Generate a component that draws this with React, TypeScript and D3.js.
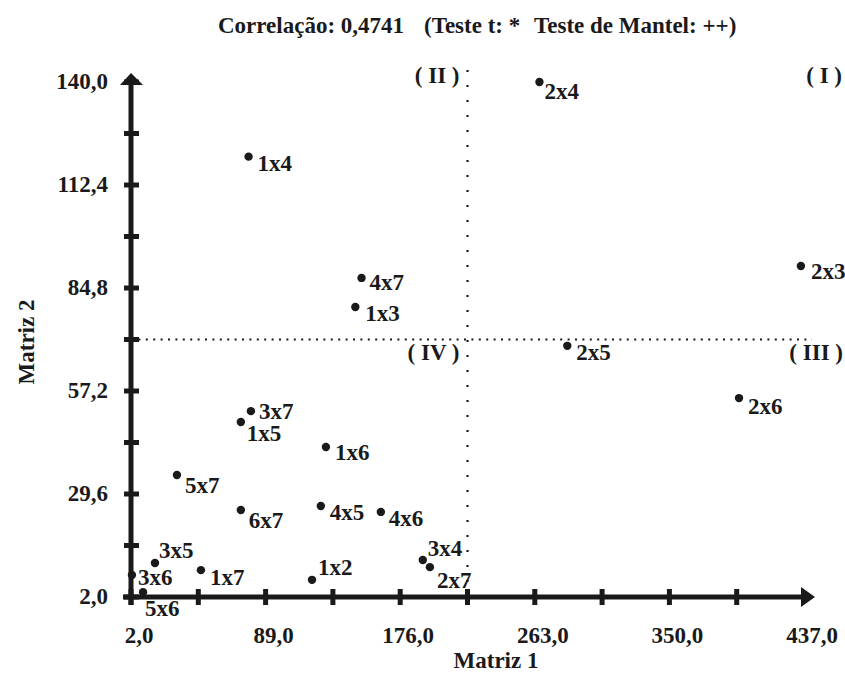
import React from "react";
import * as d3 from "d3";

const pointNames = ["2x4","1x4","2x3","4x7","1x3","2x5","2x6","3x7","1x5","1x6","5x7","6x7","4x5","4x6","3x5","3x6","5x6","1x7","1x2","3x4","2x7"];
const matriz1 = [266, 78, 435, 151, 147, 284, 395, 79.5, 73, 128, 31.7, 73, 124.7, 163.5, 17.5, 2.6, 9.8, 47.2, 119, 190.6, 195.2];
const matriz2 = [140, 120, 90.7, 87.5, 79.7, 69.3, 55.3, 51.8, 48.9, 42.2, 34.7, 25.3, 26.4, 24.8, 11.1, 7.9, 3.3, 9.2, 6.6, 11.9, 10.0];

const xLabelValues = [2, 89, 176, 263, 350, 437];
const yLabelValues = [2, 29.6, 57.2, 84.8, 112.4, 140];
const quadrantLabels = ["( I )", "( II )", "( III )", "( IV )"];
const titleParts = ["Correlação: 0,4741", "(Teste t: *", "Teste de Mantel: ++)"];

// label placement (dx, dy of label start / vertical centre relative to dot)
const labelOffset: Record<string, [number, number]> = {
  "2x4": [5, 9], "1x4": [9, 7], "2x3": [10, 6], "4x7": [8, 5], "1x3": [10, 6],
  "2x5": [9, 7], "2x6": [9, 8], "3x7": [8, 0], "1x5": [6, 12], "1x6": [9, 6],
  "5x7": [8, 11], "6x7": [8, 10], "4x5": [9, 7], "4x6": [8, 7], "3x5": [4, -13],
  "3x6": [6, 3], "5x6": [2, 16], "1x7": [9, 7], "1x2": [6, -12], "3x4": [5, -12], "2x7": [7, 13],
};

const fmt = (v: number) => d3.format(".1f")(v).replace(".", ",");
const FONT = "'Liberation Serif', 'Times New Roman', serif";

export default function App() {
  const W = 845, H = 678;
  const x = d3.scaleLinear().domain([2, 437]).range([131, 804]);
  const y = d3.scaleLinear().domain([2, 140]).range([597, 82]);
  const xTicks = d3.range(0, 10).map((i) => 2 + i * 43.5);
  const yTicks = d3.range(0, 11).map((i) => 2 + i * 13.8);
  const xMid = (2 + 437) / 2;
  const yMid = (2 + 140) / 2;
  const x0 = x(2), y0 = y(2);
  const fs = 23;

  return (
    <svg width={W} height={H} style={{ position: "absolute", left: 0, top: 0, background: "#fff" }}
      fontFamily={FONT} fontWeight="bold" fill="#1a1a1a">
      <rect width={W} height={H} fill="#fff" />
      {/* title */}
      <text x={218} y={33} fontSize={fs}>{titleParts[0]}</text>
      <text x={424} y={33} fontSize={fs}>{titleParts[1]}</text>
      <text x={534} y={33} fontSize={fs}>{titleParts[2]}</text>

      {/* dotted quadrant lines */}
      <line x1={x(xMid)} x2={x(xMid)} y1={y(140) - 12} y2={y0} stroke="#1a1a1a" strokeWidth={2.2} strokeDasharray="2 13" />
      <line x1={x0} x2={x(437) + 8} y1={y(yMid)} y2={y(yMid)} stroke="#1a1a1a" strokeWidth={2.2} strokeDasharray="2 5.4" />

      {/* axes */}
      <line x1={x0} x2={x0} y1={y0 + 8} y2={y(140) + 2} stroke="#1a1a1a" strokeWidth={5} />
      <line x1={x0 - 8} x2={x(437) - 2} y1={y0} y2={y0} stroke="#1a1a1a" strokeWidth={5} />
      <path d={`M${x0 - 11},${y(140) + 3} L${x0},${y(140) - 9} L${x0 + 12},${y(140) + 3} Z`} fill="#1a1a1a" />
      <path d={`M${x(437) - 3},${y0 - 10} L${x(437) + 11},${y0} L${x(437) - 3},${y0 + 10} Z`} fill="#1a1a1a" />
      {yTicks.map((t, i) => (
        <line key={"yt" + i} x1={x0 - 7} x2={x0 + 8} y1={y(t)} y2={y(t)} stroke="#1a1a1a" strokeWidth={5} />
      ))}
      {xTicks.map((t, i) => (
        <line key={"xt" + i} x1={x(t)} x2={x(t)} y1={y0 - 8} y2={y0 + 8} stroke="#1a1a1a" strokeWidth={5} />
      ))}
      {yLabelValues.map((t, i) => (
        <text key={"yl" + i} x={108} y={y(t) + 7} fontSize={fs} textAnchor="end">{fmt(t)}</text>
      ))}
      {xLabelValues.map((t, i) => (
        <text key={"xl" + i} x={x(t) + 8} y={643} fontSize={fs} textAnchor="middle">{fmt(t)}</text>
      ))}

      {/* axis titles */}
      <text x={496} y={668} fontSize={fs} textAnchor="middle">Matriz 1</text>
      <text transform={`translate(34,342) rotate(-90)`} fontSize={fs} textAnchor="middle">Matriz 2</text>

      {/* quadrant labels */}
      <text x={842} y={y(140) + 1} fontSize={fs} textAnchor="end">{quadrantLabels[0]}</text>
      <text x={x(xMid) - 8} y={y(140) + 1} fontSize={fs} textAnchor="end">{quadrantLabels[1]}</text>
      <text x={843} y={y(yMid) + 20} fontSize={fs} textAnchor="end">{quadrantLabels[2]}</text>
      <text x={x(xMid) - 8} y={y(yMid) + 20} fontSize={fs} textAnchor="end">{quadrantLabels[3]}</text>

      {/* points */}
      {pointNames.map((n, i) => {
        const cx = x(matriz1[i]);
        const cy = y(matriz2[i]);
        const [dx, dy] = labelOffset[n];
        return (
          <g key={n}>
            <circle cx={cx} cy={cy} r={4.2} fill="#1a1a1a" />
            <text x={cx + dx} y={cy + dy + 7.5} fontSize={fs}>{n}</text>
          </g>
        );
      })}
    </svg>
  );
}
